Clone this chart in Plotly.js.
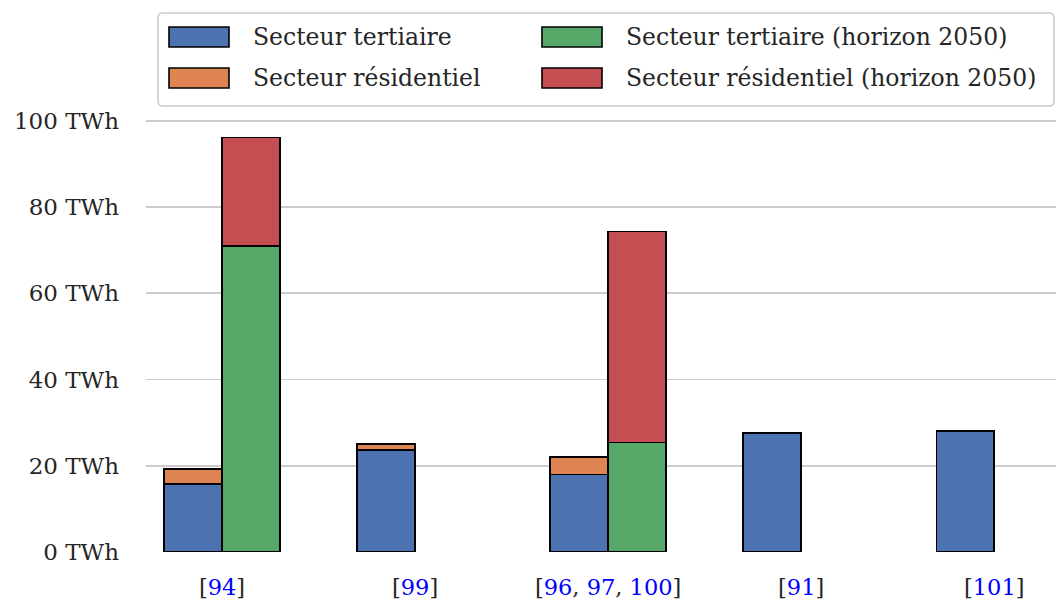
<!DOCTYPE html>
<html>
<head>
<meta charset="utf-8">
<script src="https://cdn.plot.ly/plotly-3.0.1.min.js"></script>
<style>
html,body{margin:0;padding:0;background:#fff;}
#chart{width:1056px;height:604px;}
</style>
</head>
<body>
<div id="chart"></div>
<script>
// ---- data ----
var refs = [["94"], ["99"], ["96", "97", "100"], ["91"], ["101"]];
var tertiaire = [15.8, 23.6, 18.0, 27.6, 28.1];
var residentiel = [3.5, 1.4, 4.0, null, null];
var tertiaire2050 = [71.0, null, 25.4, null, null];
var residentiel2050 = [25.1, null, 48.9, null, null];
var seriesNames = ["Secteur tertiaire", "Secteur résidentiel", "Secteur tertiaire (horizon 2050)", "Secteur résidentiel (horizon 2050)"];
var seriesColors = ["#4C72B0", "#DD8452", "#55A868", "#C44E52"];
var yTicks = [0, 20, 40, 60, 80, 100];

// ---- build ----
var FONT = "DejaVu Serif";
var TXT = "#262626";
var idx = refs.map(function(_, i){ return i; });
var BW = 0.3;
var xLeft = idx.map(function(i){ return i - BW/2; });
var xRight = idx.map(function(i){ return i + BW/2; });
var ticktext = refs.map(function(r){
  return "[" + r.map(function(n){ return '<span style="color:#0000ff">' + n + '</span>'; }).join(", ") + "]";
});

function barTrace(x, y, k){
  return {
    type: "bar", x: x, y: y, width: BW, name: seriesNames[k],
    marker: {color: seriesColors[k], line: {color: "#000", width: 1.6}},
    showlegend: false, hoverinfo: "y"
  };
}
var data = [
  barTrace(xLeft, tertiaire, 0),
  barTrace(xLeft, residentiel, 1),
  barTrace(xRight, tertiaire2050, 2),
  barTrace(xRight, residentiel2050, 3)
];

// manual legend (wide swatches like the reference)
var PL = 146, PW = 910, PB = 552, PH = 435;
function px2x(p){ return (p - PL) / PW; }
function py2y(p){ return (PB - p) / PH; }
function roundRect(x0, y0, x1, y1, r){
  var rx = r / PW, ry = r / PH;
  var X0 = px2x(x0), X1 = px2x(x1), Y0 = py2y(y0), Y1 = py2y(y1);
  return "M" + (X0+rx) + "," + Y0 + " L" + (X1-rx) + "," + Y0 +
    " Q" + X1 + "," + Y0 + " " + X1 + "," + (Y0-ry) +
    " L" + X1 + "," + (Y1+ry) + " Q" + X1 + "," + Y1 + " " + (X1-rx) + "," + Y1 +
    " L" + (X0+rx) + "," + Y1 + " Q" + X0 + "," + Y1 + " " + X0 + "," + (Y1+ry) +
    " L" + X0 + "," + (Y0-ry) + " Q" + X0 + "," + Y0 + " " + (X0+rx) + "," + Y0 + " Z";
}
var shapes = [{
  type: "path", xref: "paper", yref: "paper", layer: "above",
  path: roundRect(158, 13, 1054, 106, 5),
  line: {color: "#cccccc", width: 1.6}, fillcolor: "rgba(255,255,255,0.85)"
}];
var annotations = [];
var legPos = [[169, 37], [169, 78], [542, 37], [542, 78]];
seriesNames.forEach(function(nm, k){
  var px = legPos[k][0], py = legPos[k][1];
  shapes.push({
    type: "rect", xref: "paper", yref: "paper", layer: "above",
    x0: px2x(px), x1: px2x(px+60), y0: py2y(py-10), y1: py2y(py+10),
    line: {color: "#000", width: 1.6}, fillcolor: seriesColors[k]
  });
  annotations.push({
    xref: "paper", yref: "paper", x: px2x(px+82), y: py2y(py),
    xanchor: "left", yanchor: "middle", showarrow: false, text: nm,
    font: {family: FONT, size: 23.5, color: TXT}
  });
});

var layout = {
  width: 1056, height: 604,
  margin: {l: 146, r: 0, t: 117, b: 52},
  paper_bgcolor: "#fff", plot_bgcolor: "#fff",
  barmode: "stack", bargap: 0,
  showlegend: false,
  font: {family: FONT, size: 23, color: TXT},
  xaxis: {
    range: [-0.394, 4.32], tickvals: idx, ticktext: ticktext,
    showgrid: false, zeroline: false, showline: false, ticks: "",
    ticklabelstandoff: 19, tickfont: {family: FONT, size: 22.5, color: TXT}
  },
  yaxis: {
    range: [0, 100.9], tickvals: yTicks,
    ticktext: yTicks.map(function(v){ return v + " TWh"; }),
    showgrid: true, gridcolor: "#cccccc", gridwidth: 1.8,
    zeroline: false, showline: false, ticks: "",
    ticklabelstandoff: 26, tickfont: {family: FONT, size: 23, color: TXT}
  },
  shapes: shapes,
  annotations: annotations
};

Plotly.newPlot("chart", data, layout, {displayModeBar: false, staticPlot: true});
</script>
</body>
</html>
